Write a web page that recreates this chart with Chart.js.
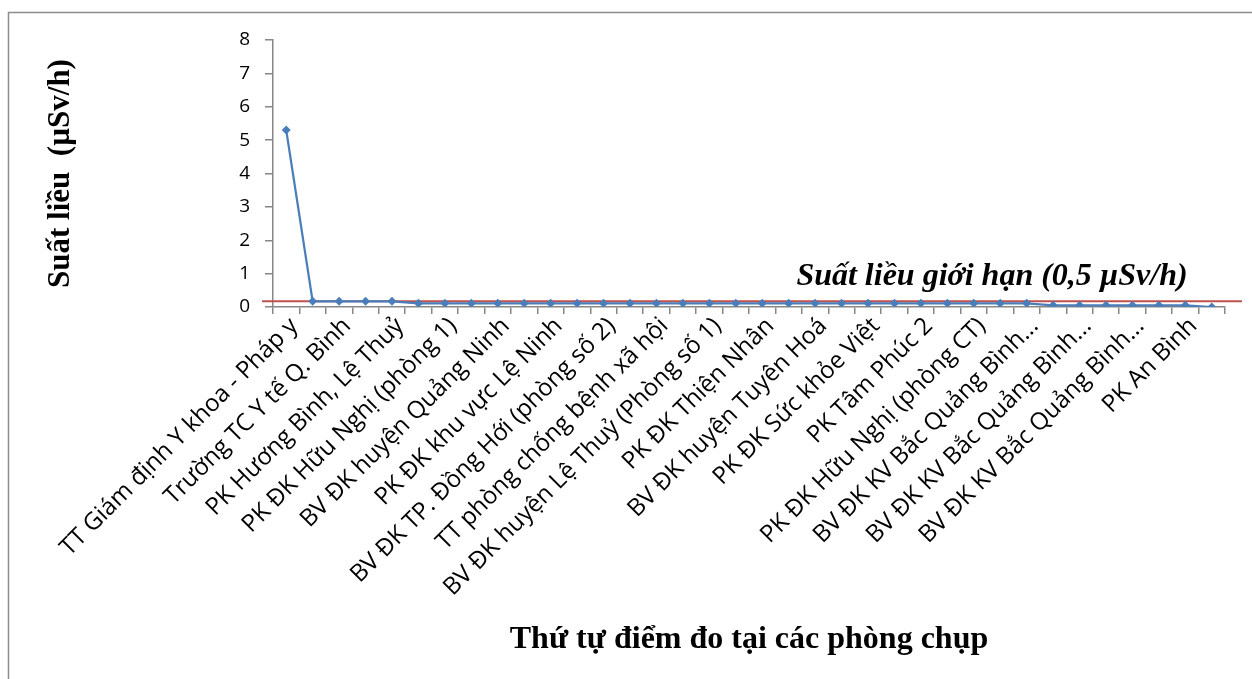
<!DOCTYPE html>
<html>
<head>
<meta charset="utf-8">
<script src="https://cdn.jsdelivr.net/npm/chart.js@4.4.0/dist/chart.umd.min.js"></script>
<style>
  html, body { margin: 0; padding: 0; background: #fff; }
  #wrap { width: 1252px; height: 679px; }
</style>
</head>
<body>
<div id="wrap"><canvas id="lineChart" width="1252" height="679"></canvas></div>
<script>
// measuring points (every second name is hidden on the axis, like in the original)
var rooms = [
    'TT Giám định Y khoa - Pháp y', '',
    'Trường TC Y tế Q. Bình', '',
    'PK Hương Bình, Lệ Thuỷ', '',
    'PK ĐK Hữu Nghị (phòng 1)', '',
    'BV ĐK huyện Quảng Ninh', '',
    'PK ĐK khu vực Lệ Ninh', '',
    'BV ĐK TP. Đồng Hới (phòng số 2)', '',
    'TT phòng chống bệnh xã hội', '',
    'BV ĐK huyện Lệ Thuỷ (Phòng số 1)', '',
    'PK ĐK Thiện Nhân', '',
    'BV ĐK huyện Tuyên Hoá', '',
    'PK ĐK Sức khỏe Việt', '',
    'PK Tâm Phúc 2', '',
    'PK ĐK Hữu Nghị (phòng CT)', '',
    'BV ĐK KV Bắc Quảng Bình...', '',
    'BV ĐK KV Bắc Quảng Bình...', '',
    'BV ĐK KV Bắc Quảng Bình...', '',
    'PK An Bình', ''
];

// dose rate, uSv/h
var doseRate = [
    5.3, 0.17, 0.17, 0.17, 0.17, 0.11, 0.11, 0.11, 0.11, 0.11,
    0.11, 0.11, 0.11, 0.11, 0.11, 0.11, 0.11, 0.11, 0.11, 0.11,
    0.11, 0.11, 0.11, 0.11, 0.11, 0.11, 0.11, 0.11, 0.11, 0.05,
    0.05, 0.05, 0.05, 0.05, 0.05, 0.0
];

var yTicks = [0, 1, 2, 3, 4, 5, 6, 7, 8];

// red limit line, drawn where it sits in the picture
var limitLine = 0.17;
var limitText = 'Suất liều giới hạn (0,5 µSv/h)';

var axisGrey = '#878787';
var lineBlue = '#4a7ebb';

var frame = {
    id: 'frame',
    beforeDraw: function(chart){
        var c = chart.ctx;
        c.save();
        c.fillStyle = '#fff';
        c.fillRect(0, 0, chart.width, chart.height);
        c.strokeStyle = '#8c8c8c';
        c.lineWidth = 1.5;
        c.strokeRect(8.5, 12.5, chart.width + 20, chart.height + 20);
        c.restore();
    }
};

var limit = {
    id: 'limit',
    beforeDatasetsDraw: function(chart){
        var c = chart.ctx;
        var y = chart.scales.y.getPixelForValue(limitLine);
        var area = chart.chartArea;
        c.save();
        c.strokeStyle = '#c0504d';
        c.lineWidth = 2;
        c.beginPath();
        c.moveTo(area.left - 11, y);
        c.lineTo(area.right + 17, y);
        c.stroke();
        c.font = 'italic bold 32px "Liberation Serif", "Times New Roman", serif';
        c.fillStyle = '#000';
        c.textAlign = 'center';
        c.textBaseline = 'alphabetic';
        c.fillText(limitText, area.left + 719, y - 16);
        c.restore();
    }
};

var ctx = document.getElementById('lineChart').getContext('2d');

var doseChart = new Chart(ctx, {
    type: 'line',
    data: {
        labels: rooms,
        datasets: [{
            label: 'Suất liều',
            data: doseRate,
            borderColor: lineBlue,
            backgroundColor: lineBlue,
            borderWidth: 2.25,
            pointStyle: 'rectRot',
            pointRadius: 4.5,
            pointBorderWidth: 0,
            tension: 0
        }]
    },
    options: {
        responsive: false,
        animation: false,
        layout: {
            padding: { left: 0, right: 27, top: 40, bottom: 0 }
        },
        plugins: {
            legend: { display: false },
            tooltip: { enabled: false }
        },
        scales: {
            x: {
                offset: true,
                grid: {
                    offset: true,
                    drawOnChartArea: false,
                    color: axisGrey,
                    lineWidth: 1.5,
                    tickLength: 7
                },
                border: { color: axisGrey, width: 1.5 },
                ticks: {
                    autoSkip: false,
                    maxRotation: 45,
                    minRotation: 45,
                    color: '#000',
                    padding: -2,
                    labelOffset: 8,
                    font: { family: '"Open Sans", "DejaVu Sans", sans-serif', size: 24 }
                },
                title: {
                    display: true,
                    text: 'Thứ tự điểm đo tại các phòng chụp',
                    color: '#000',
                    font: { family: '"Liberation Serif", "Times New Roman", serif', size: 32, weight: 'bold' },
                    padding: { top: 0, bottom: 20 }
                },
                afterFit: function(scale){
                    scale.height = 372;
                }
            },
            y: {
                min: 0,
                max: 8,
                afterBuildTicks: function(scale){
                    scale.ticks = yTicks.map(function(v){ return { value: v }; });
                },
                grid: {
                    drawOnChartArea: false,
                    color: axisGrey,
                    lineWidth: 1.5,
                    tickLength: 8
                },
                border: { color: axisGrey, width: 1.5 },
                ticks: {
                    color: '#000',
                    padding: 15,
                    font: { family: '"Open Sans", "DejaVu Sans", sans-serif', size: 19 }
                },
                title: {
                    display: true,
                    text: 'Suất liều  (µSv/h)',
                    color: '#000',
                    font: { family: '"Liberation Serif", "Times New Roman", serif', size: 31, weight: 'bold' },
                    padding: { top: 42, bottom: 0 }
                },
                afterFit: function(scale){
                    scale.width = 273;
                }
            }
        }
    },
    plugins: [frame, limit]
});
</script>
</body>
</html>
